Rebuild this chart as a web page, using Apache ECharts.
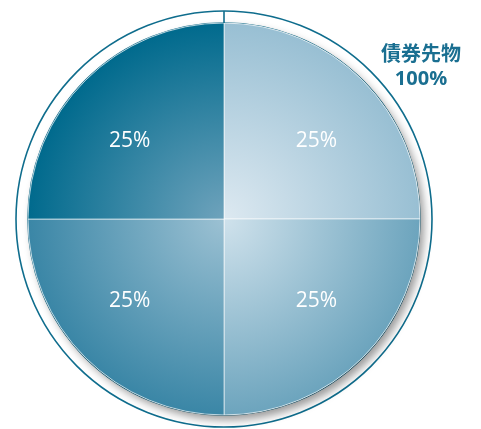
<!DOCTYPE html>
<html><head><meta charset="utf-8">
<script src="https://cdn.jsdelivr.net/npm/echarts@6/dist/echarts.min.js"></script>
<style>html,body{margin:0;padding:0;background:#fff}#c{width:481px;height:429px}</style>
</head><body><div id="c"></div>
<script>
// data
const sliceNames = ['A', 'B', 'C', 'D']; // clockwise from 12 o'clock: top-right, bottom-right, bottom-left, top-left
const sliceValues = [25, 25, 25, 25];
const outerName = '債券先物';
const outerValue = 100;

// styles
const CX = 224, CY = 219, R = 196, RING = 208;
const grads = [
  {x: 0, y: 1, inner: '#dde9f1', outer: '#98bfd3'},
  {x: 0, y: 0, inner: '#d0e2ec', outer: '#6ca4bd'},
  {x: 1, y: 0, inner: '#9cc1d3', outer: '#3a86a6'},
  {x: 1, y: 1, inner: '#6fa3bc', outer: '#006a8d'}
];
const chart = echarts.init(document.getElementById('c'));
const FONT = '"Open Sans", "Noto Sans CJK JP", sans-serif';
const labelShift = [[4, 10], [4, -6], [-6, -6], [-6, 10]];
chart.setOption({
  animation: false,
  series: [
    {
      type: 'pie', silent: true, z: 1,
      center: [CX, CY], radius: [R, RING],
      label: {show: false}, labelLine: {show: false},
      itemStyle: {color: '#fff', borderColor: '#0f6d8d', borderWidth: 1.6},
      data: [{name: outerName, value: outerValue}]
    },
    {
      type: 'pie', silent: true, z: 2,
      center: [CX, CY], radius: R,
      label: {show: false}, labelLine: {show: false},
      itemStyle: {color: '#fff', shadowBlur: 9, shadowOffsetX: 4, shadowOffsetY: 5, shadowColor: 'rgba(0,0,0,0.4)'},
      data: [{name: '', value: 1}]
    },
    {
      type: 'pie', z: 3,
      center: [CX, CY], radius: R, startAngle: 90, clockwise: true,
      label: {show: false}, labelLine: {show: false},
      itemStyle: {borderColor: 'rgba(255,255,255,0.6)', borderWidth: 1},
      data: sliceNames.map((n, i) => ({
        name: n, value: sliceValues[i],
        itemStyle: {color: {type: 'radial', x: grads[i].x, y: grads[i].y, r: 1,
          colorStops: [{offset: 0, color: grads[i].inner}, {offset: 1, color: grads[i].outer}]}}
      }))
    },
    {
      type: 'pie', z: 4, silent: true,
      center: [CX, CY], radius: [R * 0.245, R], startAngle: 90,
      itemStyle: {color: 'transparent'},
      label: {show: true, position: 'inside', color: '#fff', fontSize: 21, fontFamily: FONT,
        formatter: p => p.value + '%'},
      labelLayout: p => ({dx: labelShift[p.dataIndex][0], dy: labelShift[p.dataIndex][1]}),
      data: sliceNames.map((n, i) => ({name: n, value: sliceValues[i]}))
    }
  ],
  graphic: [
    {type: 'line', z: 10, shape: {x1: CX, y1: CY - RING, x2: CX, y2: CY - R}, style: {stroke: '#0f6d8d', lineWidth: 1.6}},
    {type: 'text', z: 10, x: 421, y: 43, style: {text: outerName + '\n' + outerValue + '%', fill: '#1a6f91',
      font: 'bold 20px ' + FONT, textAlign: 'center', lineHeight: 24}}
  ]
});
</script></body></html>
